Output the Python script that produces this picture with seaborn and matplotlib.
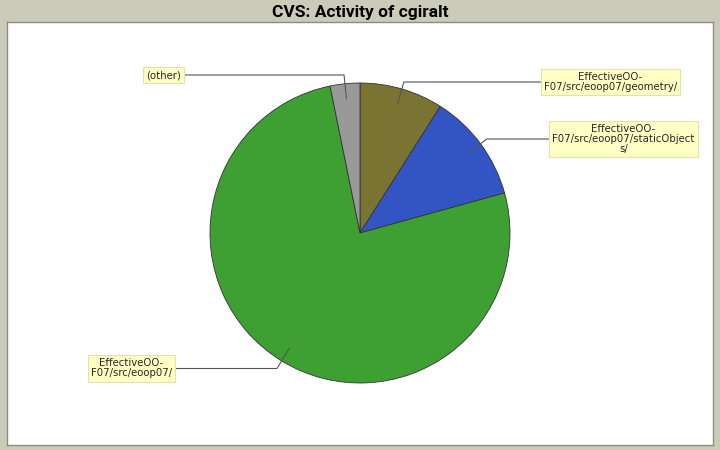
import matplotlib
matplotlib.use("Agg")
import matplotlib.pyplot as plt
import numpy as np
import seaborn as sns

sns.set_style("white")
plt.rcParams["font.family"] = ["DejaVu Sans"]

# slice data (clockwise from 12 o'clock)
labels = ["EffectiveOO-\nF07/src/eoop07/geometry/",
          "EffectiveOO-\nF07/src/eoop07/staticObject\ns/",
          "EffectiveOO-\nF07/src/eoop07/",
          "(other)"]
shares = [9.0, 11.7, 76.1, 3.2]
colors = ["#7a7432", "#3355c4", "#3ea033", "#999999"]

# label box centres (pixels in the plot area, y from top of image)
box_x = [610.5, 623.5, 131.5, 163.5]
box_y = [82, 139, 368.5, 75]

W, H = 720, 450
left, top, right, bottom = 7, 22, 713, 445
aw, ah = right - left, bottom - top

fig = plt.figure(figsize=(W / 100, H / 100), dpi=100)
fig.patch.set_facecolor("#cbcbb9")
ax = fig.add_axes([left / W, (H - bottom) / H, aw / W, ah / H])

cx, cy, R = 360 - left, bottom - 233, 150
wedges, _ = ax.pie(shares, colors=colors, startangle=90, counterclock=False,
                   center=(cx, cy), radius=R, frame=True,
                   wedgeprops=dict(edgecolor="#333333", linewidth=0.6))
ax.set_xlim(0, aw)
ax.set_ylim(0, ah)
ax.set_aspect("equal")
ax.set_xticks([])
ax.set_yticks([])
ax.set_facecolor("white")
for s in ax.spines.values():
    s.set_color("#8c8c80")
    s.set_linewidth(1)

for w, lab, bx, by in zip(wedges, labels, box_x, box_y):
    ang = np.deg2rad((w.theta1 + w.theta2) / 2)
    tx, ty = bx - left, bottom - by
    p1 = (cx + 0.9 * R * np.cos(ang), cy + 0.9 * R * np.sin(ang))
    # elbow where the radial line meets the label's height
    r2 = (ty - cy) / np.sin(ang)
    p2 = (cx + r2 * np.cos(ang), ty)
    p3x = tx - 40 if tx > cx else tx + 20
    ax.plot([p1[0], p2[0], p3x], [p1[1], p2[1], ty], color="#555555", lw=0.8,
            zorder=3, clip_on=False)
    ax.text(tx, ty, lab, ha="center", va="center", fontsize=7.3,
            multialignment="center", linespacing=1.0, zorder=4,
            bbox=dict(boxstyle="square,pad=0.3", fc="#ffffc4", ec="#e2e2b0", lw=0.8))

fig.text(0.5, 1 - 12 / H, "CVS: Activity of cgiralt", ha="center", va="center",
         fontsize=12.5, fontweight="bold", color="black",
         family=["Roboto", "DejaVu Sans"])

fig.savefig("out.png", dpi=100, facecolor=fig.get_facecolor())
